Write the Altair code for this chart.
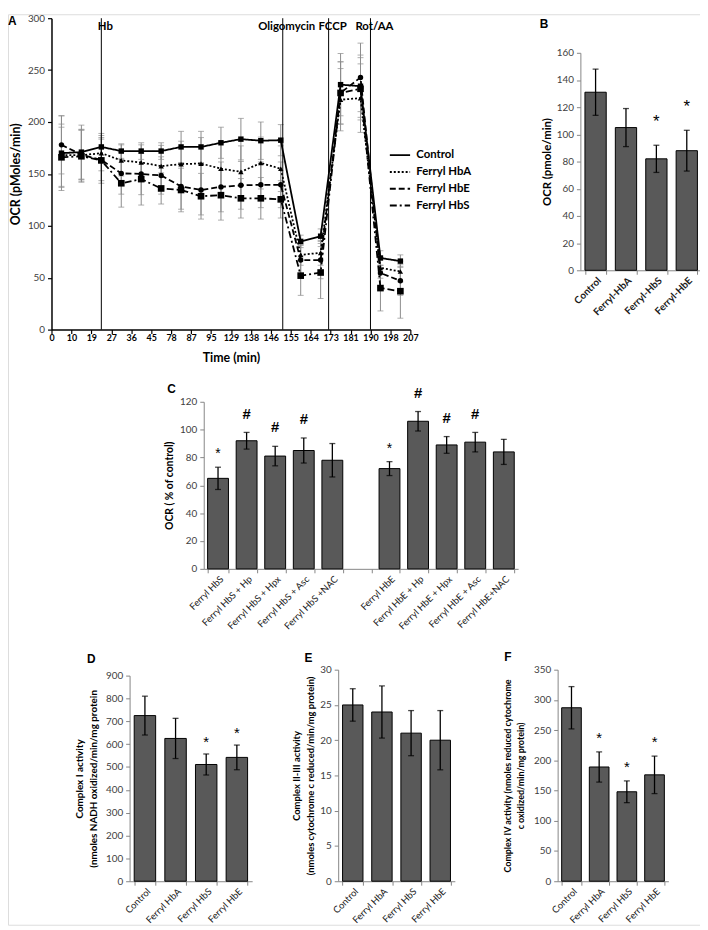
import altair as alt
import pandas as pd

FONT = "Lato"
LFONT = "Liberation Sans"
H = 921  # height of the single shared view (all panels are placed inside it via scale ranges)

# ---------------- Panel A : OCR time course ----------------
time_labels = ["0", "10", "19", "27", "36", "45", "78", "87", "95", "129", "138",
               "146", "155", "164", "173", "181", "190", "198", "207"]
a_series = ["Control", "Ferryl HbA", "Ferryl HbE", "Ferryl HbS"]
a_control = [170, 171, 176, 172, 172, 172, 176, 176, 180, 183.5, 182, 182.5, 85, 90, 236, 234.5, 69, 66]
a_hba = [168, 168, 170, 163, 161, 157.5, 159.5, 160, 155, 152, 160.5, 155, 72, 74, 221.5, 223, 59.5, 56]
a_hbe = [178, 168.5, 163.5, 150.5, 150, 148.5, 138, 134.5, 137.5, 139, 139.5, 139.5, 67, 67, 228, 243, 54.5, 47]
a_hbs = [166, 167, 163, 141, 145, 136, 134.5, 128.5, 129.5, 126.5, 126.5, 125.5, 52, 55, 228, 232, 40, 37]
a_control_err = [36, 26, 13, 7, 8, 8, 15, 15, 15, 20, 18, 15, 6, 7, 30, 30, 7, 6]
a_hba_err = [30, 25, 17, 15, 17, 20, 22, 25, 26, 25, 25, 22, 10, 12, 30, 33, 10, 10]
a_hbe_err = [28, 24, 20, 20, 20, 18, 22, 24, 24, 23, 22, 22, 14, 18, 30, 33, 14, 14]
a_hbs_err = [29, 25, 22, 23, 25, 15, 21, 22, 24, 19, 20, 18, 19, 25, 30, 30, 22, 26]
a_event_pos = [2.5, 11.6, 13.9, 16.0]
a_event_labels = ["Hb", "Oligomycin", "FCCP", "Rot/AA"]

# ---------------- Panel B ----------------
b_cats = ["Control", "Ferryl-HbA", "Ferryl-HbS", "Ferryl-HbE"]
b_vals = [131, 105, 82, 88]
b_errs = [17, 14, 10, 15]
b_marks = ["", "", "*", "*"]

# ---------------- Panel C ----------------
c_cats = ["Ferryl HbS", "Ferryl HbS + Hp", "Ferryl HbS + Hpx", "Ferryl HbS + Asc", "Ferryl HbS +NAC", " ",
          "Ferryl HbE", "Ferryl HbE + Hp", "Ferryl HbE + Hpx", "Ferryl HbE + Asc", "Ferryl HbE+NAC"]
c_vals = [65, 92, 81, 85, 78, None, 72, 106, 89, 91, 84]
c_errs = [8, 6, 7, 9, 12, None, 5, 7, 6, 7, 9]
c_marks = ["*", "#", "#", "#", "", "", "*", "#", "#", "#", ""]

# ---------------- Panels D, E, F ----------------
def_cats = ["Control", "Ferryl HbA", "Ferryl HbS", "Ferryl HbE"]
d_vals = [725, 625, 511, 542]
d_errs = [85, 88, 46, 54]
d_marks = ["", "", "*", "*"]
e_vals = [25.0, 24.0, 21.0, 20.0]
e_errs = [2.3, 3.7, 3.2, 4.2]
e_marks = ["", "", "", ""]
f_vals = [287, 189, 148, 176]
f_errs = [35, 25, 18, 31]
f_marks = ["", "*", "*", "*"]


def letter(ch, x, y):
    return alt.Chart(pd.DataFrame({"t": [ch]})).mark_text(
        font=LFONT, fontWeight="bold", fontSize=12, align="left", baseline="middle",
        color="black").encode(x=alt.value(x), y=alt.value(y), text="t:N")


# ---------- panel A ----------
rows = []
for s, vals, errs in zip(a_series, [a_control, a_hba, a_hbe, a_hbs],
                         [a_control_err, a_hba_err, a_hbe_err, a_hbs_err]):
    for i, (v, e) in enumerate(zip(vals, errs)):
        rows.append({"series": s, "slot": i + 0.5, "ocr": v, "lo": v - e, "hi": v + e})
dfA = pd.DataFrame(rows)
dfEv = pd.DataFrame({"pos": a_event_pos, "label": a_event_labels})

ax0, ax1, ay0, ay1 = 44, 407, 319, 4
label_expr = "[" + ",".join("'%s'" % t for t in time_labels) + "][datum.value]"
xAxisA = alt.Axis(orient="bottom", offset=ay0 - H, values=list(range(19)), labelExpr=label_expr,
                  title="Time (min)", titleFont=FONT, titleFontSize=12.5, titleFontWeight="bold",
                  titleColor="black", titlePadding=9, labelFont=FONT, labelFontSize=9,
                  labelFontWeight="bold", labelColor="black", domainColor="black", domainWidth=1.5,
                  tickColor="black", tickWidth=1.2, tickSize=4, labelPadding=0, labelFlush=False,
                  labelOverlap=False, grid=False)
yAxisA = alt.Axis(orient="left", offset=-ax0, values=list(range(0, 301, 50)), title="OCR (pMoles/min)",
                  titleFont=FONT, titleFontSize=12.5, titleFontWeight="bold", titleColor="black",
                  titlePadding=5, labelFont=FONT, labelFontSize=10, labelColor="#404040",
                  domainColor="black", domainWidth=1.5, tickColor="black", tickWidth=1.2,
                  tickSize=4, labelPadding=3, grid=False)
xsA = alt.Scale(domain=[0, 18], range=[ax0, ax1], nice=False, zero=False)
ysA = alt.Scale(domain=[0, 300], range=[ay0, ay1], nice=False)


def xA(field):
    return alt.X(field, type="quantitative", scale=xsA, axis=xAxisA)


def yA(field):
    return alt.Y(field, type="quantitative", scale=ysA, axis=yAxisA)


baseA = alt.Chart(dfA)
errA = baseA.mark_rule(color="#8c8c8c", strokeWidth=1).encode(x=xA("slot"), y=yA("lo"), y2="hi:Q")
capA = baseA.transform_fold(["lo", "hi"], as_=["k", "v"]).mark_tick(
    color="#8c8c8c", thickness=1, size=6, orient="horizontal").encode(x=xA("slot"), y=yA("v"))
lineA = baseA.mark_line(color="black", strokeWidth=1.8).encode(
    x=xA("slot"), y=yA("ocr"),
    strokeDash=alt.StrokeDash("series:N", scale=alt.Scale(domain=a_series,
                                                        range=[[1, 0], [2, 2], [6, 3], [7, 3, 2, 3]]),
                              legend=alt.Legend(title=None, orient="none", legendX=385, legendY=131,
                                                symbolType="stroke", symbolSize=420,
                                                symbolStrokeWidth=2, symbolStrokeColor="black",
                                                labelFont=FONT, labelFontSize=11.5,
                                                labelFontWeight="bold", labelColor="black",
                                                rowPadding=0, labelOffset=5)))
point_style = {"Control": ("square", 30), "Ferryl HbA": ("triangle-up", 30),
               "Ferryl HbE": ("circle", 30), "Ferryl HbS": ("square", 45)}
ptLayers = []
for s in a_series:
    shp, sz = point_style[s]
    ptLayers.append(baseA.transform_filter(alt.datum.series == s).mark_point(
        filled=True, color="black", opacity=1, shape=shp, size=sz).encode(x=xA("slot"), y=yA("ocr")))
evRule = alt.Chart(dfEv).mark_rule(color="black", strokeWidth=1).encode(
    x=xA("pos"), y=alt.datum(0), y2=alt.datum(300))
evText = alt.Chart(dfEv).mark_text(font=FONT, fontSize=11.5, fontWeight="bold", color="black",
                                   dx=4, baseline="middle").encode(
    x=xA("pos"), y=alt.value(13), text="label:N")

panelA = alt.layer(errA, capA, evRule, lineA, *ptLayers, evText)


# ---------- bar panel helper ----------
def bar_panel(cats, vals, errs, marks, xr, yr, ymax, ystep, title, title_size, title_pad,
              line_h, label_bold, label_size, pinner, star_size, star_dy, hash_dy=-14):
    recs = []
    for c, v, e, m in zip(cats, vals, errs, marks):
        if v is None:
            continue
        recs.append({"cat": c, "val": v, "lo": v - e, "hi": v + e, "mark": m})
    df = pd.DataFrame(recs)
    xs = alt.Scale(domain=cats, range=list(xr), paddingInner=pinner, paddingOuter=pinner / 2)
    ys = alt.Scale(domain=[0, ymax], range=list(yr), nice=False)
    xax = alt.Axis(orient="bottom", offset=yr[0] - H, title=None, labelAngle=-45, labelFont=FONT,
                   labelFontSize=label_size, labelFontWeight="bold" if label_bold else "normal",
                   labelColor="#1a1a1a", domainColor="#868686", tickColor="#868686",
                   tickBand="extent", tickSize=4, labelPadding=1, labelOverlap=False, grid=False)
    yax = alt.Axis(orient="left", offset=-xr[0],
                   values=[i * ystep for i in range(int(round(ymax / ystep)) + 1)],
                   title=title, titleFont=FONT, titleFontSize=title_size,
                   titleFontWeight="bold", titleColor="black", titlePadding=title_pad,
                   titleLineHeight=line_h, labelFont=FONT, labelFontSize=10, labelColor="#404040",
                   domainColor="#868686", tickColor="#868686", tickSize=4, labelPadding=3, grid=False)

    def X():
        return alt.X("cat:N", scale=xs, axis=xax)

    def Y(f):
        return alt.Y(f, type="quantitative", scale=ys, axis=yax)

    base = alt.Chart(df)
    bars = base.mark_bar(color="#595959", stroke="black", strokeWidth=1).encode(x=X(), y=Y("val"))
    err = base.mark_rule(color="black", strokeWidth=1.3).encode(x=X(), y=Y("lo"), y2="hi:Q")
    caps = base.transform_fold(["lo", "hi"], as_=["k", "v"]).mark_tick(
        color="black", thickness=1.3, size=6).encode(x=X(), y=Y("v"))
    stars = base.transform_filter("datum.mark == '*'").mark_text(
        font=LFONT, fontSize=star_size, color="black", baseline="alphabetic", dy=star_dy).encode(
        x=X(), y=Y("hi"), text="mark:N")
    hashes = base.transform_filter("datum.mark == '#'").mark_text(
        font=LFONT, fontSize=15, fontWeight="bold", color="black", baseline="alphabetic",
        dy=hash_dy).encode(x=X(), y=Y("hi"), text="mark:N")
    return alt.layer(bars, err, caps, stars, hashes)


panelB = bar_panel(b_cats, b_vals, b_errs, b_marks, (579, 702), (259, 39), 160, 20,
                   "OCR (pmole/min)", 11.5, 4, 14, True, 10, 0.3, 17, -18)
panelC = bar_panel(c_cats, c_vals, c_errs, c_marks, (198, 516), (561, 392), 120, 20,
                   "OCR ( % of control)", 10.5, 5, 13, False, 9.5, 0.27, 14, -9, -14)
panelD = bar_panel(def_cats, d_vals, d_errs, d_marks, (123, 247), (877, 669), 900, 100,
                   ["Complex I activity", "(nmoles NADH oxidized/min/mg protein"], 10, 7, 14.5,
                   False, 9.5, 0.3, 15, -7)
panelE = bar_panel(def_cats, e_vals, e_errs, e_marks, (334, 452), (877, 663), 30, 5,
                   ["Complex II-III activity", "(nmoles cytochrome c reduced/min/mg protein)"], 9.5, 4,
                   15, False, 9.5, 0.3, 15, -7)
panelF = bar_panel(def_cats, f_vals, f_errs, f_marks, (556, 668), (877, 663), 350, 50,
                   ["Complex IV activity (nmoles reduced cytochrome", "c oxidized/min/mg protein)"],
                   9, 8, 13, False, 9.5, 0.29, 15, -9)

letters = [letter("A", 0, 7), letter("B", 538, 10), letter("C", 161, 379),
           letter("D", 80, 652), letter("E", 300, 651), letter("F", 502, 650)]

chart = alt.layer(panelA, panelB, panelC, panelD, panelE, panelF, *letters).resolve_scale(
    x="independent", y="independent").resolve_axis(
    x="independent", y="independent").properties(
    width=700, height=H, padding=0).configure_view(
    strokeWidth=0, stroke="transparent").configure(background="white")

chart.save("out.html", embed_options={"renderer": "svg", "actions": False})
